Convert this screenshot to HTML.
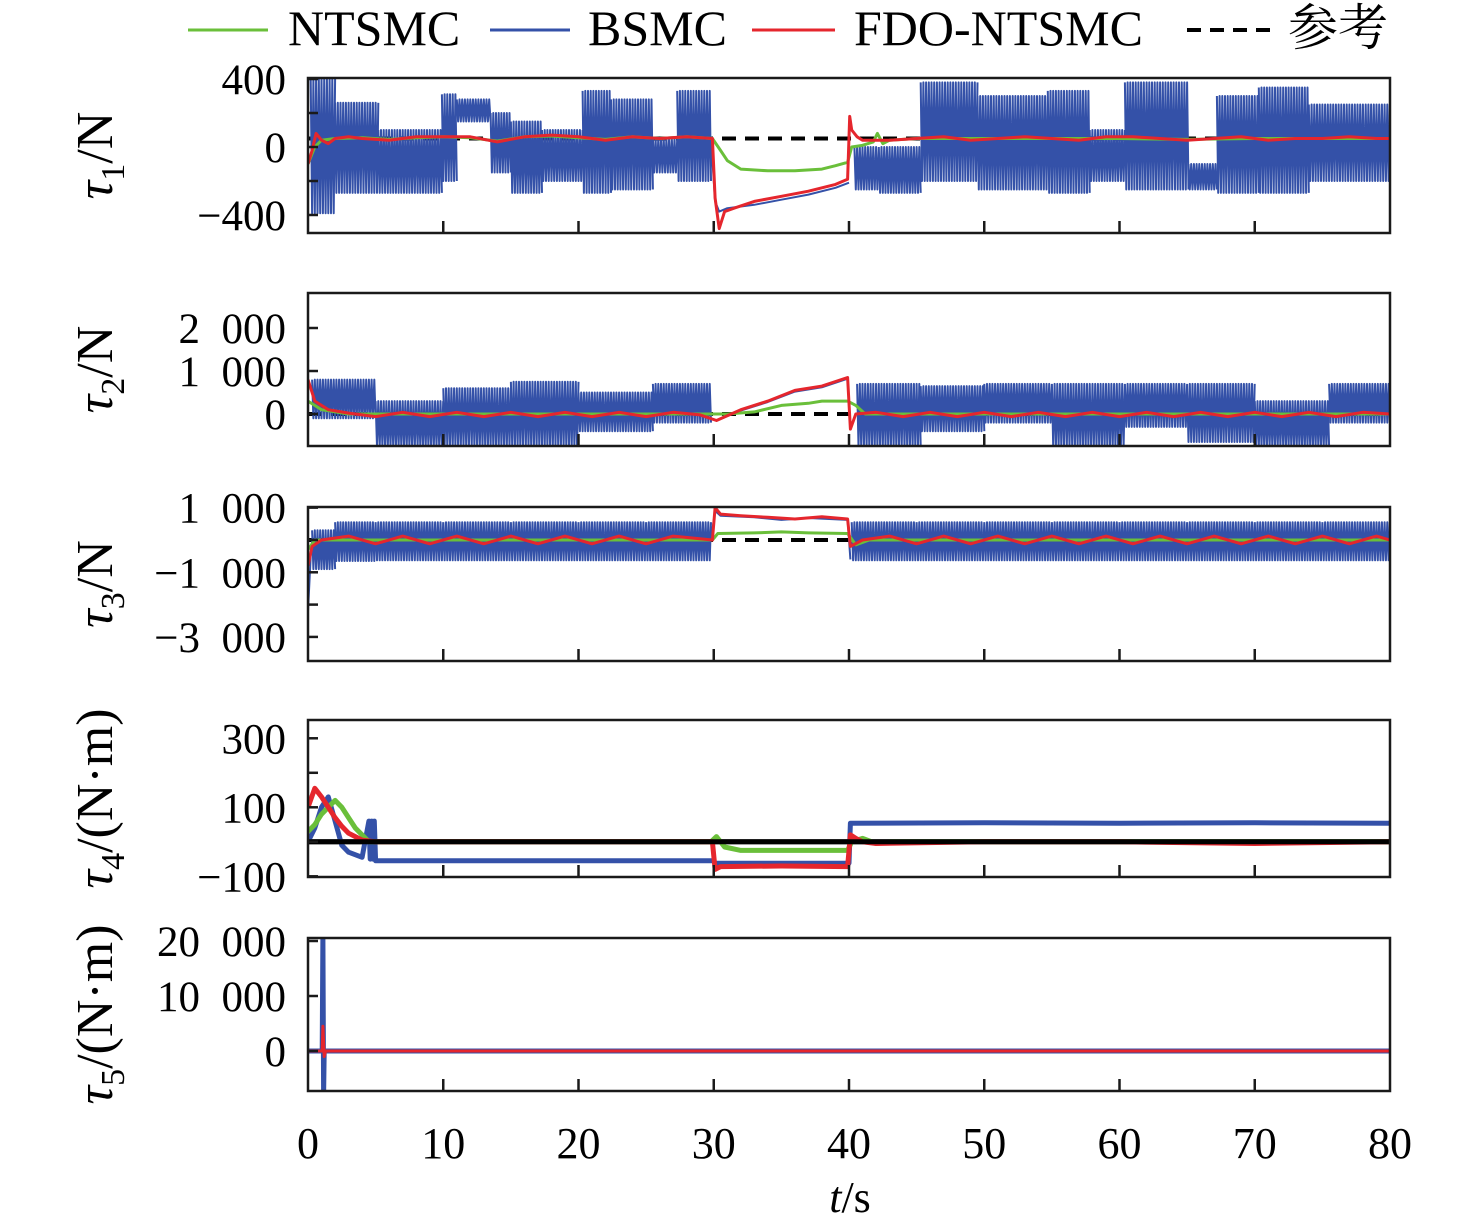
<!DOCTYPE html>
<html><head><meta charset="utf-8"><style>
html,body{margin:0;padding:0;background:#fff;}
svg{display:block;font-family:"Liberation Serif","Noto Serif CJK SC",serif;}
</style></head><body>
<svg id="chart" width="1476" height="1230" viewBox="0 0 1476 1230" xmlns="http://www.w3.org/2000/svg">
<g font-size="50">
 <g><line x1="188" y1="30" x2="268" y2="30" stroke="#6abf3a" stroke-width="3"/><text x="288" y="45">NTSMC</text></g>
 <g><line x1="490" y1="30" x2="570" y2="30" stroke="#3451a8" stroke-width="3"/><text x="588" y="45">BSMC</text></g>
 <g><line x1="752" y1="30" x2="835" y2="30" stroke="#e5262d" stroke-width="3"/><text x="854" y="45">FDO-NTSMC</text></g>
 <g><line x1="1187" y1="30" x2="1272" y2="30" stroke="#000" stroke-width="4" stroke-dasharray="14,9"/><text x="1288" y="45" font-family="'Liberation Serif','Noto Serif CJK SC',serif">参考</text></g>
</g>
<g id="panels"></g>
<g font-size="44" text-anchor="middle" id="xlabels"></g>
<text x="850" y="1212" font-size="44" text-anchor="middle"><tspan font-style="italic">t</tspan>/s</text>
</svg>
<script>
const NS="http://www.w3.org/2000/svg";
const xTicks=[0,10,20,30,40,50,60,70,80];
// Panel 1 data
const p1BlockT0=[0.2,2,5.2,9.9,11,13.5,15,17.3,20.3,22.4,25.5,27.3,40.4,42.2,45.3,49.5,54.7,57.8,60.4,65.1,67.2,70.3,74];
const p1BlockT1=[2,5.2,9.9,11,13.5,15,17.3,20.3,22.4,25.5,27.3,29.8,42.2,45.3,49.5,54.7,57.8,60.4,65.1,67.2,70.3,74,80];
const p1BlockHi=[400,260,100,310,280,200,150,100,330,280,50,330,0,0,380,300,330,100,380,-100,300,350,250];
const p1BlockLo=[-390,-270,-270,-200,150,-150,-270,-200,-270,-250,-150,-200,-250,-270,-200,-250,-270,-200,-250,-250,-270,-270,-200];
const p1BlueT=[29.8,30.1,30.4,31,33,35,37,39,40];
const p1BlueV=[50,-320,-380,-360,-340,-310,-280,-240,-210];
const p1RedT=[0,0.3,0.6,1,1.5,2,3,4,6,8,10,12,14,16,18,20,22,24,26,28,29.9,30.1,30.4,30.8,31.5,33,35,37,39,39.9,40.05,40.2,40.6,41,43,45,47,49,51,53,55,57,59,61,63,65,67,69,71,73,75,77,79,80];
const p1RedV=[-100,-20,80,40,20,50,60,50,40,60,60,60,30,60,70,60,40,60,50,60,50,-300,-480,-380,-360,-320,-290,-260,-220,-190,180,100,60,40,40,50,60,40,50,60,50,40,60,60,50,40,50,60,40,50,50,60,50,50];
const p1GreenT=[0,0.5,1,2,4,6,8,10,12,14,16,18,20,22,24,26,28,29.9,30.5,31,32,34,36,38,39,39.9,40.2,41,41.8,42.1,42.5,43,45,50,55,60,65,70,75,80];
const p1GreenV=[-100,0,40,50,55,45,55,60,55,35,60,65,55,45,60,50,60,50,-20,-80,-130,-140,-140,-130,-110,-90,0,10,30,80,20,40,50,50,50,50,45,50,50,50];
// Panel 2 data
const p2BlockT0=[0.3,5,10,15,20,25.5,40.6,45.3,50,55,60.4,65,70,75.5];
const p2BlockT1=[5,10,15,20,25.5,29.8,45.3,50,55,60.4,65,70,75.5,80];
const p2BlockHi=[800,300,600,750,500,700,700,650,700,700,700,700,300,700];
const p2BlockLo=[-100,-750,-750,-750,-400,-200,-750,-400,-200,-750,-300,-650,-750,-200];
const p2BlueT=[29.8,30.2,32,34,36,38,39.9];
const p2BlueV=[-100,-150,80,280,520,620,820];
const p2RedT=[0,0.5,1.5,3,5,7,9,11,13,15,17,19,21,23,25,27,29,30.2,32,34,36,38,39.9,40.1,40.5,42,44,46,48,50,52,54,56,58,60,62,64,66,68,70,72,74,76,78,80];
const p2RedV=[800,300,100,20,-60,40,-60,40,-60,40,-60,40,-60,40,-60,40,-20,-150,100,300,550,650,850,-350,0,40,-60,40,-60,40,-60,40,-60,40,-60,40,-60,40,-60,40,-60,40,-60,40,0];
const p2GreenT=[0,1,3,10,20,29.8,31,33,35,37,38,39.9,40.5,41.2,45,60,80];
const p2GreenV=[300,100,0,0,0,0,0,50,200,250,300,300,200,0,0,0,0];
// Panel 3 data
const p3BlockT0=[0.3,2,5,10,15,20,25];
const p3BlockT1=[2,5,10,15,20,25,29.8];
const p3BlockHi=[300,550,550,550,550,550,550];
const p3BlockLo=[-900,-650,-630,-630,-630,-630,-630];
const p3BlockT0b=[40.2,45,50,55,60,65,70,75];
const p3BlockT1b=[45,50,55,60,65,70,75,80];
const p3BlockHib=[550,550,550,550,550,550,550,550];
const p3BlockLob=[-630,-630,-630,-630,-630,-630,-630,-630];
const p3BlueT=[0,0.2,0.3,29.8,30.1,30.5,33,35,37,39.9,40.1];
const p3BlueV=[-2200,-500,0,0,900,750,700,620,680,620,-600];
const p3RedT=[0,0.3,1,3,5,7,9,11,13,15,17,19,21,23,25,27,29.9,30.1,30.5,32,34,36,38,39.9,40.1,41,43,45,47,49,51,53,55,57,59,61,63,65,67,69,71,73,75,77,79,80];
const p3RedV=[-800,-200,0,120,-120,120,-120,120,-120,120,-120,120,-120,120,-120,120,0,1000,800,750,700,650,720,650,-200,0,120,-120,120,-120,120,-120,120,-120,120,-120,120,-120,120,-120,120,-120,120,-120,120,0];
const p3GreenT=[0,0.5,1,10,20,29.9,30.3,33,35,37,39.9,40.5,41.5,50,80];
const p3GreenV=[-300,0,0,0,0,0,200,220,250,220,200,-150,0,0,0];
// Panel 4 data
const p4BlueT=[0,0.5,1,1.5,2,2.5,3,4,4.5,4.6,4.7,4.8,4.9,5,10,20,30,30.1,40,40.1,50,60,70,80];
const p4BlueV=[0,40,100,130,60,-10,-30,-45,60,-50,60,-50,60,-55,-55,-55,-55,-62,-62,54,55,54,55,54];
const p4RedT=[0,0.5,1,1.5,2,2.5,3,4,5,10,20,29.9,30.1,30.5,35,39.9,40.1,40.5,41,42,50,60,70,80];
const p4RedV=[100,155,130,100,70,45,25,5,0,0,0,0,-80,-72,-70,-72,20,10,0,-5,0,0,-5,0];
const p4GreenT=[0,0.5,1,1.5,2,2.5,3,3.5,4,4.5,10,20,29.8,30.2,30.8,32,35,39.9,40.2,41,42,43,50,80];
const p4GreenV=[30,50,80,100,120,100,70,40,20,0,0,0,0,15,-15,-25,-25,-25,0,10,-5,0,0,0];
// Panel 5 data
const p5BlueT=[0,1.05,1.1,1.15,1.2,80];
const p5BlueV=[0,0,21000,-8000,0,0];
const p5RedT=[0,1.05,1.1,1.2,1.3,80];
const p5RedV=[0,0,4500,-1000,0,0];

const SP="\u2002";
const panels=[
 {name:"tau1",top:78,bot:233,ymin:-506,ymax:406,ticks:[-400,-200,0,200,400],labels:[400,0,-400],lbl:["400","0","−400"],ref:50,refSolid:false,
  blocks:[p1BlockT0,p1BlockT1,p1BlockHi,p1BlockLo],blue:[p1BlueT,p1BlueV],red:[p1RedT,p1RedV],green:[p1GreenT,p1GreenV],sub:"1",unit:"N"},
 {name:"tau2",top:293,bot:446,ymin:-744,ymax:2814,ticks:[0,1000,2000],labels:[2000,1000,0],lbl:["2"+SP+"000","1"+SP+"000","0"],ref:0,refSolid:false,
  blocks:[p2BlockT0,p2BlockT1,p2BlockHi,p2BlockLo],blue:[p2BlueT,p2BlueV],red:[p2RedT,p2RedV],green:[p2GreenT,p2GreenV],sub:"2",unit:"N"},
 {name:"tau3",top:507,bot:661,ymin:-3745,ymax:1020,ticks:[1000,0,-1000,-2000,-3000],labels:[1000,-1000,-3000],lbl:["1"+SP+"000","−1"+SP+"000","−3"+SP+"000"],ref:0,refSolid:false,
  blocks:[p3BlockT0.concat(p3BlockT0b),p3BlockT1.concat(p3BlockT1b),p3BlockHi.concat(p3BlockHib),p3BlockLo.concat(p3BlockLob)],blue:[p3BlueT,p3BlueV],red:[p3RedT,p3RedV],green:[p3GreenT,p3GreenV],sub:"3",unit:"N"},
 {name:"tau4",top:720,bot:877,ymin:-102,ymax:353,ticks:[300,200,100,0,-100],labels:[300,100,-100],lbl:["300","100","−100"],ref:0,refSolid:true,
  blocks:null,blue:[p4BlueT,p4BlueV],red:[p4RedT,p4RedV],green:[p4GreenT,p4GreenV],sub:"4",unit:"(N·m)"},
 {name:"tau5",top:938,bot:1091,ymin:-7273,ymax:20545,ticks:[20000,10000,0],labels:[20000,10000,0],lbl:["20"+SP+"000","10"+SP+"000","0"],ref:0,refSolid:false,
  blocks:null,blue:[p5BlueT,p5BlueV],red:[p5RedT,p5RedV],green:[[0,80],[0,0]],sub:"5",unit:"(N·m)"}
];
const X0=308,X1=1390;
function sx(t){return X0+t/80*(X1-X0);}
const root=document.getElementById("panels");
function mk(tag,attrs,parent){const e=document.createElementNS(NS,tag);for(const k in attrs)e.setAttribute(k,attrs[k]);parent.appendChild(e);return e;}
panels.forEach((p,i)=>{
 const sy=v=>p.top+(p.ymax-v)/(p.ymax-p.ymin)*(p.bot-p.top);
 const g=mk("g",{},root);
 
 
 const cp=mk("clipPath",{id:"clip"+i},g);
 mk("rect",{x:X0,y:p.top,width:X1-X0,height:p.bot-p.top},cp);
 const plot=mk("g",{"clip-path":"url(#clip"+i+")"},g);
 const ref=mk("line",{x1:X0,x2:X1,y1:sy(p.ref),y2:sy(p.ref),stroke:"#000","stroke-width":p.refSolid?5:4,"stroke-dasharray":p.refSolid?"none":"14,9"},plot);
 
 
 let d="";
 if(p.blocks){
  const [T0,T1,H,L]=p.blocks;
  for(let k=0;k<T0.length;k++){
   let up=true,first=true;
   for(let t=T0[k];t<=T1[k]+1e-6;t+=0.1){d+=(first?"M":"L")+sx(t).toFixed(1)+","+sy(up?H[k]:L[k]).toFixed(1);up=!up;first=false;}
  }
 }
 let bd="";p.blue[0].forEach((t,j)=>{bd+=(j?"L":"M")+sx(t).toFixed(1)+","+sy(p.blue[1][j]).toFixed(1);});
 const blue=mk("path",{d:d+" "+bd,fill:"none",stroke:"#3451a8","stroke-width":p.blocks?2:5,"stroke-linejoin":"round"},plot);
 
 
 function line(arr,color,nm,w){
  let s="";arr[0].forEach((t,j)=>{s+=(j?"L":"M")+sx(t).toFixed(1)+","+sy(arr[1][j]).toFixed(1);});
  const e=mk("path",{d:s,fill:"none",stroke:color,"stroke-width":w,"stroke-linejoin":"round"},plot);
  
  
 }
 line(p.green,"#6abf3a","ntsmc-line-"+p.name,i==3?5:3);
 line(p.red,"#e5262d","fdo-ntsmc-line-"+p.name,i==3?5:3);
 if(p.refSolid){const r2=mk("line",{x1:X0,x2:X1,y1:sy(p.ref),y2:sy(p.ref),stroke:"#000","stroke-width":5},plot);
  
  }
 const fr=mk("rect",{x:X0,y:p.top,width:X1-X0,height:p.bot-p.top,fill:"none",stroke:"#1a1a1a","stroke-width":2.5},g);
 
 
 xTicks.forEach(t=>{if(t>0&&t<80){const tk=mk("line",{x1:sx(t),x2:sx(t),y1:p.bot,y2:p.bot-12,stroke:"#1a1a1a","stroke-width":2.5},g);
  
  }});
 p.ticks.forEach(v=>{const tk=mk("line",{x1:X0,x2:X0+10,y1:sy(v),y2:sy(v),stroke:"#1a1a1a","stroke-width":2.5},g);
  
  });
 p.labels.forEach((v,j)=>{const tx=mk("text",{x:286,y:sy(v)+15,"font-size":43,"text-anchor":"end"},g);tx.textContent=p.lbl[j];
  
  });
 const cy=(p.top+p.bot)/2;
 const yt=mk("text",{transform:"translate(112,"+cy+") rotate(-90)","font-size":52,"text-anchor":"middle"},g);
 
 
 yt.innerHTML='<tspan font-style="italic">τ</tspan><tspan font-size="34" dy="12">'+p.sub+'</tspan><tspan dy="-12">/'+p.unit+'</tspan>';
});
const xl=document.getElementById("xlabels");
xTicks.forEach(t=>{const e=mk("text",{x:sx(t),y:1158},xl);e.textContent=t;
 
 });
</script>
</body></html>
